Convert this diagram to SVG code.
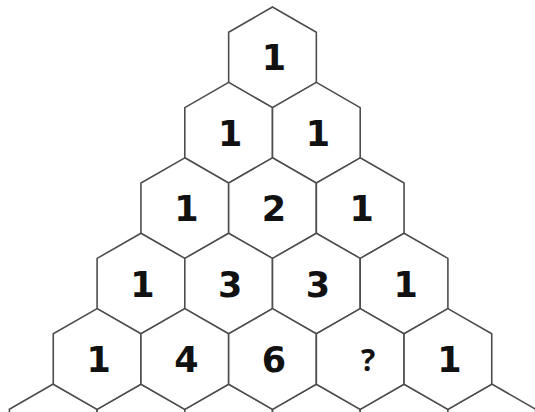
<svg xmlns="http://www.w3.org/2000/svg" xmlns:xlink="http://www.w3.org/1999/xlink" width="535" height="412" viewBox="0 0 535 412">
<style>
.h{fill:#ffffff;stroke:#4d4d4d;stroke-width:1.6;stroke-linejoin:miter}
.t{font-family:"DejaVu Sans",sans-serif;font-weight:bold;font-size:35px;fill:#111111;text-anchor:middle}
.q{font-family:"Open Sans","DejaVu Sans",sans-serif;font-weight:bold;font-size:30px;fill:#111111;text-anchor:middle}
</style>
<defs>
<path id="hex" d="M0,-50.4 L43.85,-25.2 L43.85,25.2 L0,50.4 L-43.85,25.2 L-43.85,-25.2 Z"/>
</defs>
<rect width="535" height="412" fill="#ffffff"/>
<g id="row6">
<g id="h6a" transform="translate(53.25,434.4)"><use xlink:href="#hex" class="h"/></g>
<g id="h6b" transform="translate(140.95,434.4)"><use xlink:href="#hex" class="h"/></g>
<g id="h6c" transform="translate(228.65,434.4)"><use xlink:href="#hex" class="h"/></g>
<g id="h6d" transform="translate(316.35,434.4)"><use xlink:href="#hex" class="h"/></g>
<g id="h6e" transform="translate(404.05,434.4)"><use xlink:href="#hex" class="h"/></g>
<g id="h6f" transform="translate(491.75,434.4)"><use xlink:href="#hex" class="h"/></g>
</g>
<g id="h1a" transform="translate(272.5,57.4)"><use xlink:href="#hex" class="h"/><text class="t" x="1.5" y="13">1</text></g>
<g id="h2a" transform="translate(228.65,132.8)"><use xlink:href="#hex" class="h"/><text class="t" x="1.5" y="13">1</text></g>
<g id="h2b" transform="translate(316.35,132.8)"><use xlink:href="#hex" class="h"/><text class="t" x="1.5" y="13">1</text></g>
<g id="h3a" transform="translate(184.8,208.2)"><use xlink:href="#hex" class="h"/><text class="t" x="1.5" y="13">1</text></g>
<g id="h3b" transform="translate(272.5,208.2)"><use xlink:href="#hex" class="h"/><text class="t" x="1.5" y="13">2</text></g>
<g id="h3c" transform="translate(360.2,208.2)"><use xlink:href="#hex" class="h"/><text class="t" x="1.5" y="13">1</text></g>
<g id="h4a" transform="translate(140.95,283.6)"><use xlink:href="#hex" class="h"/><text class="t" x="1.5" y="13">1</text></g>
<g id="h4b" transform="translate(228.65,283.6)"><use xlink:href="#hex" class="h"/><text class="t" x="1.5" y="13">3</text></g>
<g id="h4c" transform="translate(316.35,283.6)"><use xlink:href="#hex" class="h"/><text class="t" x="1.5" y="13">3</text></g>
<g id="h4d" transform="translate(404.05,283.6)"><use xlink:href="#hex" class="h"/><text class="t" x="1.5" y="13">1</text></g>
<g id="h5a" transform="translate(97.1,359)"><use xlink:href="#hex" class="h"/><text class="t" x="1.5" y="13">1</text></g>
<g id="h5b" transform="translate(184.8,359)"><use xlink:href="#hex" class="h"/><text class="t" x="1.5" y="13">4</text></g>
<g id="h5c" transform="translate(272.5,359)"><use xlink:href="#hex" class="h"/><text class="t" x="1.5" y="13">6</text></g>
<g id="h5d" transform="translate(360.2,359)"><use xlink:href="#hex" class="h"/><text class="q" x="8" y="11.5">?</text></g>
<g id="h5e" transform="translate(447.9,359)"><use xlink:href="#hex" class="h"/><text class="t" x="1.5" y="13">1</text></g>
<g id="connectors"/>
</svg>
